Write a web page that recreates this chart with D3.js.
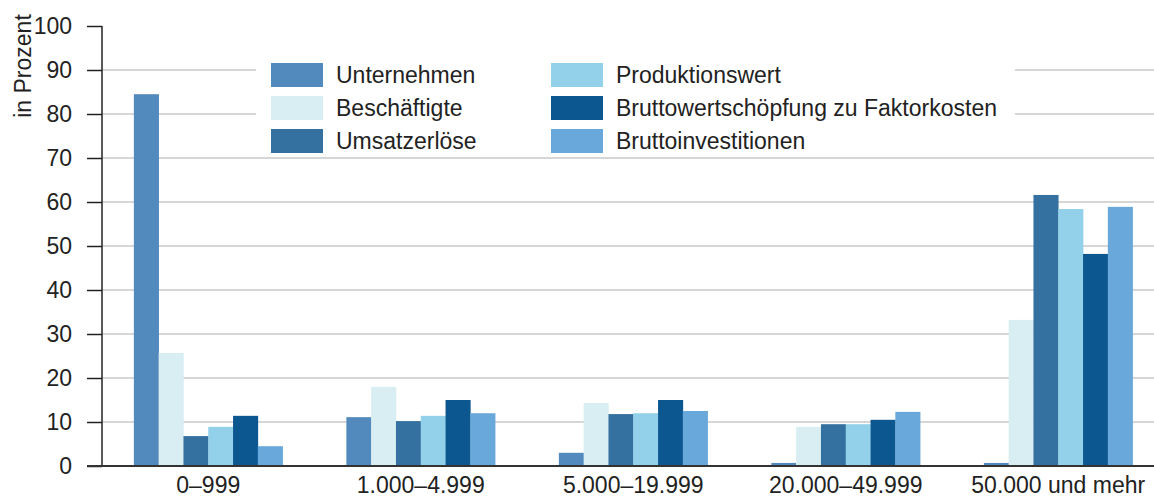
<!DOCTYPE html>
<html>
<head>
<meta charset="utf-8">
<script src="https://cdn.jsdelivr.net/npm/d3@7"></script>
<style>
  body { margin: 0; background: #fff; }
  svg { display: block; font-family: "Liberation Sans", Arial, sans-serif; }
</style>
</head>
<body>
<div id="chart"></div>
<script>
// categories and series (Anteile in Prozent)
const groups = ['0–999', '1.000–4.999', '5.000–19.999', '20.000–49.999', '50.000 und mehr'];
const seriesNames = ['Unternehmen', 'Beschäftigte', 'Umsatzerlöse', 'Produktionswert',
  'Bruttowertschöpfung zu Faktorkosten', 'Bruttoinvestitionen'];
const colors = ['#528abd', '#d9eef2', '#3571a0', '#93d1eb', '#0d5791', '#69a8db'];

const unternehmen = [84.5, 11.1, 3.0, 0.7, 0.7];
const beschaeftigte = [25.7, 18.0, 14.3, 8.9, 33.2];
const umsatz = [6.8, 10.2, 11.8, 9.5, 61.6];
const produktion = [8.9, 11.4, 12.0, 9.5, 58.4];
const bws = [11.4, 15.0, 15.0, 10.5, 48.2];
const invest = [4.5, 12.0, 12.5, 12.3, 58.9];
const yTicks = [0, 10, 20, 30, 40, 50, 60, 70, 80, 90, 100];

const seriesValues = [unternehmen, beschaeftigte, umsatz, produktion, bws, invest];

const width = 1154, height = 497;
const mLeft = 102, mBottom = 466, mTop = 26;
const fontSize = 23;

const svg = d3.select('#chart').append('svg')
  .attr('width', width)
  .attr('height', height);

const x = d3.scaleBand().domain(groups).range([mLeft, mLeft + 5 * 212.5])
  .paddingInner(0.3).paddingOuter(0.15);
const xs = d3.scaleBand().domain(d3.range(seriesNames.length)).range([0, x.bandwidth()]);
const y = d3.scaleLinear().domain([0, 100]).range([mBottom, mTop]);

// gridlines
svg.append('g')
  .selectAll('line')
  .data(yTicks.filter(d => d > 0 && d < 100))
  .enter().append('line')
  .attr('x1', mLeft).attr('x2', width)
  .attr('y1', d => y(d)).attr('y2', d => y(d))
  .attr('stroke', '#c8c8ca')
  .attr('stroke-width', 1.5);

// white box behind legend
svg.append('rect')
  .attr('x', 256).attr('y', 55)
  .attr('width', 1015 - 256).attr('height', 100)
  .attr('fill', '#fff');

// bars
const g = svg.append('g');
groups.forEach((grp, i) => {
  seriesValues.forEach((vals, s) => {
    g.append('rect')
      .attr('x', x(grp) + xs(s))
      .attr('y', y(vals[i]))
      .attr('width', xs.bandwidth() + 0.3)
      .attr('height', y(0) - y(vals[i]))
      .attr('fill', colors[s]);
  });
});

// y axis
const yAxis = d3.axisLeft(y).tickValues(yTicks).tickSize(15).tickPadding(15);
const ya = svg.append('g').attr('transform', `translate(${mLeft},0)`).call(yAxis);
ya.select('.domain').attr('stroke', '#222').attr('stroke-width', 1.5).attr('d', `M-0,${mTop}V${mBottom}`);
ya.selectAll('.tick line').attr('stroke', '#222').attr('stroke-width', 1.5);
ya.selectAll('.tick text').attr('font-size', fontSize).attr('fill', '#222')
  .attr('font-family', '"Liberation Sans", Arial, sans-serif');

// baseline
svg.append('line')
  .attr('x1', mLeft - 15).attr('x2', width)
  .attr('y1', mBottom).attr('y2', mBottom)
  .attr('stroke', '#333').attr('stroke-width', 2);

// x labels
svg.append('g')
  .selectAll('text')
  .data(groups)
  .enter().append('text')
  .attr('x', d => x(d) + x.bandwidth() / 2)
  .attr('y', 493)
  .attr('text-anchor', 'middle')
  .attr('font-size', fontSize)
  .attr('fill', '#222')
  .text(d => d);

// y title
svg.append('text')
  .attr('transform', 'translate(31,66) rotate(-90)')
  .attr('text-anchor', 'middle')
  .attr('font-size', fontSize)
  .attr('fill', '#222')
  .text('in Prozent');

// legend
const legend = svg.append('g');
seriesNames.forEach((name, i) => {
  const col = Math.floor(i / 3), row = i % 3;
  const lx = 271 + col * 280, ly = 63 + row * 33;
  legend.append('rect')
    .attr('x', lx).attr('y', ly)
    .attr('width', 52).attr('height', 24)
    .attr('fill', colors[i]);
  legend.append('text')
    .attr('x', lx + 65).attr('y', ly + 20)
    .attr('font-size', fontSize)
    .attr('fill', '#222')
    .text(name);
});
</script>
</body>
</html>
